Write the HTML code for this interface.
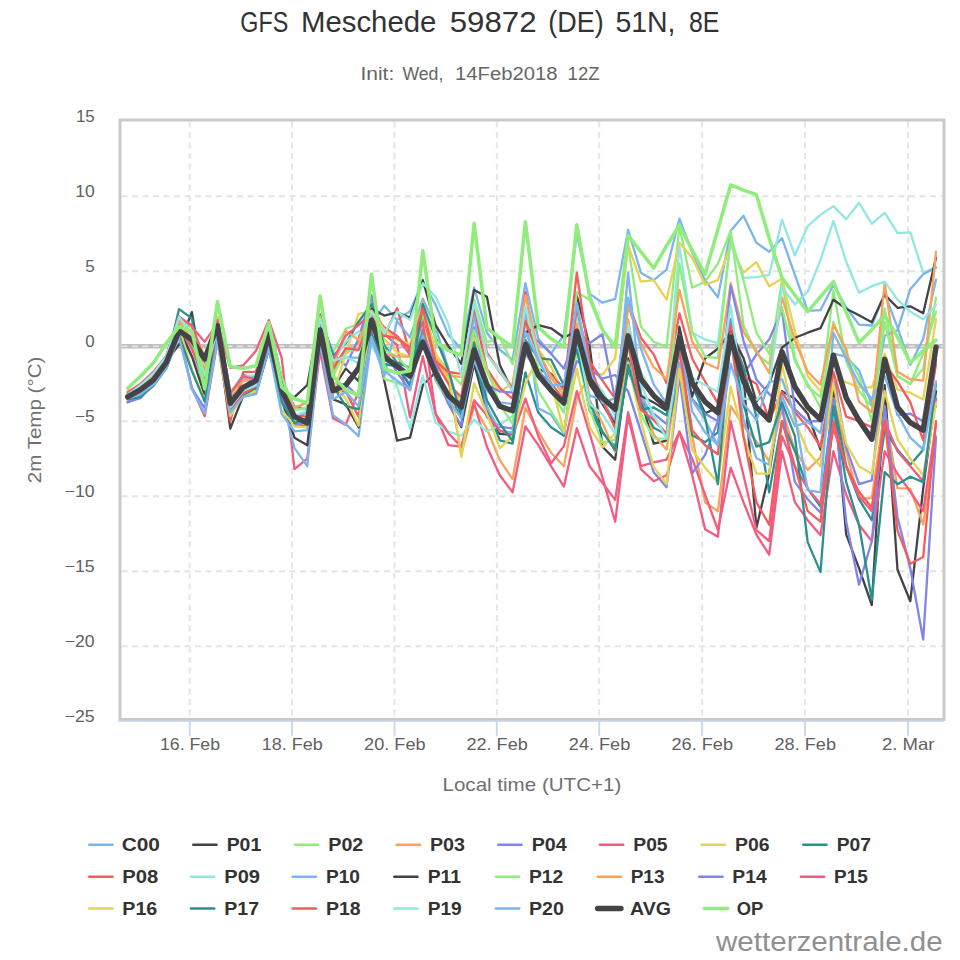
<!DOCTYPE html>
<html><head><meta charset="utf-8"><title>GFS Meschede</title>
<style>html,body{margin:0;padding:0;background:#fff}svg{display:block}text{font-family:"Liberation Sans",sans-serif}</style></head><body>
<svg width="960" height="960" viewBox="0 0 960 960">
<rect width="960" height="960" fill="#fff"/>
<g fill="none" stroke="#e4e4e4" stroke-width="1.9" stroke-dasharray="6,4.5"><path d="M121.5 646.2H943.5"/><path d="M121.5 571.2H943.5"/><path d="M121.5 496.2H943.5"/><path d="M121.5 421.2H943.5"/><path d="M121.5 346.2H943.5"/><path d="M121.5 271.2H943.5"/><path d="M121.5 196.2H943.5"/><path d="M189.7 121.5V718"/><path d="M292.0 121.5V718"/><path d="M394.5 121.5V718"/><path d="M496.8 121.5V718"/><path d="M599.2 121.5V718"/><path d="M702.0 121.5V718"/><path d="M805.0 121.5V718"/><path d="M908.0 121.5V718"/></g>
<path d="M121.5 346.2H943.5" stroke="#c0c0c0" stroke-width="4.5" fill="none"/>
<path d="M121.5 346.2H943.5" stroke="#e6e6e6" stroke-width="1.5" stroke-dasharray="6,4.5" fill="none"/>
<g fill="none" stroke-linejoin="round" stroke-linecap="round">
<path d="M127.7 394.3L140.5 389.6L153.4 375.3L166.2 361.5L179.0 325.2L191.9 347.2L204.7 377.0L217.5 330.8L230.3 404.8L243.2 386.9L256.0 380.5L268.8 337.4L281.7 388.1L294.5 417.5L307.3 412.4L320.1 325.8L333.0 362.8L345.8 357.4L358.6 357.9L371.5 323.8L384.3 305.7L397.1 319.9L410.0 311.2L422.8 281.7L435.6 304.9L448.4 334.9L461.3 348.8L474.1 287.7L486.9 332.7L499.8 349.9L512.6 359.7L525.4 283.2L538.3 338.7L551.1 353.7L563.9 334.9L576.8 233.7L589.6 293.7L602.4 302.7L615.2 298.9L628.1 229.9L640.9 272.7L653.7 280.2L666.6 269.7L679.4 218.7L692.2 252.4L705.1 280.2L717.9 297.4L730.7 230.7L743.5 215.7L756.4 242.7L769.2 251.7L782.0 238.2L794.9 274.9L807.7 310.9L820.5 310.2L833.4 284.7L846.2 307.2L859.0 324.6L871.8 325.5L884.7 293.7L897.5 327.4L910.3 364.9L923.2 338.7L936.0 279.6" stroke="#7cb5ec" stroke-width="2.3"/>
<path d="M127.7 402.2L140.5 397.3L153.4 384.1L166.2 361.2L179.0 344.7L191.9 312.1L204.7 389.7L217.5 331.2L230.3 428.7L243.2 395.9L256.0 393.7L268.8 349.5L281.7 395.7L294.5 397.2L307.3 385.2L320.1 314.7L333.0 388.6L345.8 368.5L358.6 381.1L371.5 318.6L384.3 380.7L397.1 440.7L410.0 437.7L422.8 385.2L435.6 372.3L448.4 403.3L461.3 427.0L474.1 363.7L486.9 411.2L499.8 433.9L512.6 434.8L525.4 343.5L538.3 369.2L551.1 373.8L563.9 389.1L576.8 295.5L589.6 345.9L602.4 446.7L615.2 459.6L628.1 358.2L640.9 398.7L653.7 443.7L666.6 440.7L679.4 326.7L692.2 385.6L705.1 413.3L717.9 407.6L730.7 320.0L743.5 378.4L756.4 527.7L769.2 473.7L782.0 391.2L794.9 398.7L807.7 413.7L820.5 449.7L833.4 388.2L846.2 534.6L859.0 568.2L871.8 605.0L884.7 385.2L897.5 569.7L910.3 601.2L923.2 488.7L936.0 391.2" stroke="#434348" stroke-width="2.3"/>
<path d="M127.7 391.7L140.5 384.5L153.4 372.4L166.2 357.8L179.0 323.7L191.9 340.8L204.7 384.7L217.5 331.3L230.3 402.0L243.2 380.0L256.0 381.8L268.8 338.8L281.7 402.3L294.5 419.7L307.3 427.0L320.1 345.5L333.0 352.2L345.8 328.8L358.6 323.7L371.5 301.2L384.3 378.8L397.1 383.1L410.0 388.0L422.8 321.1L435.6 380.9L448.4 402.0L461.3 404.5L474.1 299.7L486.9 342.4L499.8 337.2L512.6 364.2L525.4 308.7L538.3 367.5L551.1 391.4L563.9 412.6L576.8 292.2L589.6 299.7L602.4 329.7L615.2 346.9L628.1 245.7L640.9 326.7L653.7 341.7L666.6 346.9L679.4 226.2L692.2 287.7L705.1 281.7L717.9 263.7L730.7 230.7L743.5 325.2L756.4 353.7L769.2 364.2L782.0 280.2L794.9 358.2L807.7 386.7L820.5 397.2L833.4 290.1L846.2 361.2L859.0 391.2L871.8 406.2L884.7 308.7L897.5 376.2L910.3 383.7L923.2 368.7L936.0 297.6" stroke="#90ed7d" stroke-width="2.3"/>
<path d="M127.7 392.7L140.5 384.3L153.4 375.3L166.2 358.0L179.0 318.0L191.9 325.1L204.7 361.3L217.5 322.2L230.3 398.8L243.2 380.5L256.0 375.8L268.8 321.4L281.7 377.9L294.5 408.3L307.3 402.1L320.1 317.9L333.0 371.0L345.8 353.6L358.6 343.1L371.5 300.7L384.3 331.4L397.1 336.0L410.0 349.0L422.8 303.3L435.6 357.3L448.4 381.0L461.3 454.2L474.1 406.2L486.9 428.7L499.8 460.2L512.6 479.1L525.4 407.7L538.3 431.7L551.1 452.7L563.9 466.2L576.8 398.7L589.6 374.4L602.4 399.5L615.2 408.7L628.1 319.6L640.9 393.8L653.7 434.7L666.6 449.7L679.4 364.6L692.2 436.2L705.1 502.2L717.9 511.2L730.7 406.2L743.5 425.6L756.4 441.4L769.2 461.4L782.0 409.1L794.9 450.5L807.7 469.9L820.5 457.2L833.4 398.1L846.2 452.1L859.0 498.9L871.8 498.2L884.7 410.0L897.5 488.2L910.3 488.7L923.2 524.7L936.0 436.2" stroke="#f7a35c" stroke-width="2.3"/>
<path d="M127.7 394.5L140.5 389.6L153.4 374.9L166.2 356.0L179.0 319.4L191.9 325.0L204.7 365.5L217.5 317.0L230.3 397.1L243.2 379.5L256.0 381.3L268.8 327.6L281.7 383.2L294.5 406.3L307.3 409.1L320.1 318.8L333.0 353.2L345.8 365.7L358.6 338.7L371.5 295.2L384.3 360.3L397.1 364.3L410.0 385.2L422.8 329.7L435.6 373.7L448.4 404.0L461.3 425.6L474.1 327.4L486.9 417.3L499.8 426.7L512.6 428.5L525.4 331.2L538.3 341.7L551.1 353.7L563.9 368.7L576.8 332.7L589.6 343.2L602.4 334.2L615.2 400.2L628.1 361.2L640.9 401.7L653.7 413.7L666.6 424.2L679.4 353.7L692.2 398.7L705.1 413.7L717.9 421.2L730.7 319.2L743.5 374.7L756.4 354.4L769.2 339.4L782.0 310.2L794.9 409.4L807.7 421.4L820.5 421.0L833.4 374.0L846.2 447.0L859.0 484.2L871.8 480.3L884.7 361.2L897.5 415.2L910.3 413.7L923.2 421.2L936.0 406.2" stroke="#8085e9" stroke-width="2.3"/>
<path d="M127.7 395.0L140.5 388.9L153.4 376.7L166.2 361.5L179.0 321.9L191.9 327.1L204.7 341.7L217.5 323.7L230.3 367.9L243.2 365.4L256.0 350.7L268.8 320.2L281.7 357.9L294.5 469.2L307.3 458.7L320.1 350.7L333.0 418.2L345.8 424.9L358.6 391.2L371.5 331.2L384.3 334.2L397.1 345.0L410.0 417.4L422.8 356.2L435.6 413.7L448.4 445.2L461.3 446.7L474.1 403.2L486.9 446.7L499.8 475.2L512.6 492.3L525.4 426.3L538.3 445.2L551.1 466.2L563.9 486.6L576.8 428.2L589.6 466.2L602.4 482.7L615.2 499.9L628.1 412.2L640.9 466.2L653.7 462.4L666.6 459.6L679.4 431.7L692.2 458.7L705.1 494.7L717.9 530.0L730.7 467.7L743.5 502.2L756.4 534.6L769.2 554.7L782.0 451.2L794.9 502.2L807.7 520.2L820.5 535.2L833.4 451.2L846.2 494.7L859.0 524.7L871.8 541.2L884.7 451.2L897.5 473.7L910.3 491.7L923.2 511.2L936.0 424.2" stroke="#f15c80" stroke-width="2.3"/>
<path d="M127.7 395.7L140.5 387.1L153.4 371.9L166.2 356.8L179.0 319.2L191.9 327.5L204.7 355.8L217.5 316.9L230.3 394.9L243.2 381.7L256.0 375.8L268.8 328.8L281.7 394.0L294.5 417.4L307.3 421.9L320.1 340.0L333.0 394.6L345.8 353.7L358.6 313.8L371.5 311.7L384.3 339.1L397.1 352.6L410.0 356.8L422.8 319.6L435.6 361.4L448.4 380.1L461.3 402.7L474.1 337.6L486.9 372.6L499.8 391.9L512.6 383.0L525.4 312.3L538.3 349.8L551.1 366.6L563.9 395.4L576.8 308.4L589.6 371.7L602.4 374.7L615.2 358.2L628.1 244.9L640.9 281.7L653.7 280.2L666.6 299.7L679.4 242.7L692.2 257.7L705.1 284.7L717.9 280.2L730.7 244.9L743.5 272.7L756.4 262.2L769.2 286.2L782.0 278.7L794.9 331.2L807.7 376.2L820.5 391.2L833.4 379.2L846.2 382.2L859.0 387.4L871.8 387.4L884.7 353.7L897.5 389.7L910.3 392.7L923.2 399.6L936.0 319.2" stroke="#e4d354" stroke-width="2.3"/>
<path d="M127.7 394.0L140.5 388.2L153.4 377.7L166.2 364.2L179.0 309.1L191.9 318.4L204.7 400.2L217.5 322.8L230.3 393.0L243.2 375.1L256.0 378.3L268.8 321.2L281.7 378.2L294.5 408.1L307.3 408.5L320.1 314.8L333.0 355.9L345.8 343.3L358.6 321.6L371.5 304.1L384.3 345.5L397.1 362.6L410.0 367.9L422.8 333.0L435.6 377.4L448.4 392.7L461.3 418.5L474.1 354.7L486.9 406.7L499.8 440.4L512.6 443.6L525.4 372.5L538.3 412.6L551.1 427.3L563.9 435.7L576.8 342.0L589.6 410.2L602.4 432.4L615.2 446.9L628.1 369.6L640.9 404.4L653.7 427.8L666.6 434.7L679.4 373.3L692.2 435.3L705.1 442.2L717.9 432.3L730.7 332.1L743.5 367.3L756.4 416.9L769.2 492.4L782.0 421.2L794.9 451.2L807.7 488.7L820.5 506.7L833.4 398.7L846.2 466.2L859.0 499.2L871.8 520.2L884.7 429.6L897.5 449.7L910.3 464.7L923.2 449.7L936.0 359.7" stroke="#2b908f" stroke-width="2.3"/>
<path d="M127.7 397.9L140.5 393.7L153.4 382.2L166.2 368.3L179.0 336.3L191.9 387.7L204.7 416.3L217.5 341.4L230.3 421.1L243.2 372.1L256.0 371.7L268.8 320.7L281.7 399.2L294.5 423.2L307.3 427.4L320.1 334.9L333.0 392.3L345.8 391.2L358.6 416.7L371.5 330.7L384.3 336.1L397.1 308.1L410.0 353.7L422.8 313.6L435.6 362.7L448.4 383.7L461.3 397.2L474.1 311.2L486.9 368.7L499.8 388.2L512.6 398.7L525.4 292.2L538.3 359.7L551.1 374.7L563.9 389.7L576.8 272.7L589.6 361.2L602.4 380.7L615.2 398.7L628.1 302.2L640.9 337.7L653.7 354.4L666.6 383.4L679.4 313.3L692.2 358.8L705.1 381.5L717.9 403.3L730.7 325.8L743.5 376.2L756.4 383.7L769.2 420.0L782.0 392.1L794.9 412.2L807.7 427.2L820.5 446.7L833.4 371.7L846.2 416.7L859.0 421.2L871.8 427.2L884.7 364.2L897.5 381.4L910.3 402.4L923.2 440.3L936.0 364.2" stroke="#f45b5b" stroke-width="2.3"/>
<path d="M127.7 395.4L140.5 391.6L153.4 379.9L166.2 365.5L179.0 327.6L191.9 349.7L204.7 371.3L217.5 323.1L230.3 392.0L243.2 376.9L256.0 375.1L268.8 321.9L281.7 377.8L294.5 410.6L307.3 406.9L320.1 324.6L333.0 361.2L345.8 341.7L358.6 331.2L371.5 346.2L384.3 365.9L397.1 386.5L410.0 428.7L422.8 375.6L435.6 422.7L448.4 431.7L461.3 435.6L474.1 419.7L486.9 431.7L499.8 424.9L512.6 415.9L525.4 325.8L538.3 362.7L551.1 376.7L563.9 393.9L576.8 314.5L589.6 374.2L602.4 390.9L615.2 416.0L628.1 324.2L640.9 371.8L653.7 397.1L666.6 400.5L679.4 245.7L692.2 332.7L705.1 339.6L717.9 343.2L730.7 241.2L743.5 277.8L756.4 277.2L769.2 274.9L782.0 219.6L794.9 255.3L807.7 226.2L820.5 214.9L833.4 206.1L846.2 219.1L859.0 202.8L871.8 223.8L884.7 212.7L897.5 233.1L910.3 232.3L923.2 272.7L936.0 267.4" stroke="#91e8e1" stroke-width="2.3"/>
<path d="M127.7 395.9L140.5 387.7L153.4 377.2L166.2 363.2L179.0 325.9L191.9 356.0L204.7 382.3L217.5 324.4L230.3 405.7L243.2 389.3L256.0 388.0L268.8 345.7L281.7 398.4L294.5 448.2L307.3 466.2L320.1 341.7L333.0 415.2L345.8 424.2L358.6 436.2L371.5 338.7L384.3 376.2L397.1 321.1L410.0 337.5L422.8 298.6L435.6 327.4L448.4 368.7L461.3 417.6L474.1 313.2L486.9 407.1L499.8 431.1L512.6 432.5L525.4 313.6L538.3 408.4L551.1 414.8L563.9 433.5L576.8 346.1L589.6 395.6L602.4 399.7L615.2 422.3L628.1 272.7L640.9 393.8L653.7 420.1L666.6 433.0L679.4 362.7L692.2 400.1L705.1 419.9L717.9 445.8L730.7 341.8L743.5 419.7L756.4 458.1L769.2 464.8L782.0 396.1L794.9 426.2L807.7 422.1L820.5 433.0L833.4 353.7L846.2 356.7L859.0 370.2L871.8 404.7L884.7 335.7L897.5 330.3L910.3 289.2L923.2 274.2L936.0 267.4" stroke="#7cb5ec" stroke-width="2.3"/>
<path d="M127.7 395.4L140.5 390.9L153.4 379.9L166.2 364.5L179.0 329.3L191.9 356.5L204.7 395.2L217.5 329.7L230.3 406.9L243.2 390.2L256.0 388.5L268.8 342.8L281.7 399.5L294.5 437.7L307.3 445.2L320.1 338.7L333.0 399.2L345.8 404.4L358.6 427.3L371.5 308.7L384.3 315.6L397.1 312.4L410.0 317.7L422.8 280.2L435.6 325.2L448.4 346.2L461.3 363.8L474.1 289.9L486.9 296.7L499.8 364.9L512.6 391.2L525.4 332.7L538.3 325.2L551.1 328.3L563.9 337.5L576.8 331.2L589.6 384.3L602.4 403.9L615.2 424.7L628.1 336.5L640.9 395.8L653.7 402.4L666.6 410.9L679.4 341.1L692.2 396.4L705.1 358.2L717.9 348.8L730.7 331.9L743.5 358.2L756.4 401.7L769.2 383.7L782.0 347.7L794.9 337.8L807.7 332.7L820.5 328.2L833.4 299.7L846.2 308.7L859.0 315.3L871.8 322.2L884.7 294.6L897.5 307.8L910.3 306.3L923.2 313.2L936.0 257.7" stroke="#434348" stroke-width="2.3"/>
<path d="M127.7 394.1L140.5 387.4L153.4 373.4L166.2 357.1L179.0 321.6L191.9 326.2L204.7 368.1L217.5 319.8L230.3 392.1L243.2 380.5L256.0 377.4L268.8 323.1L281.7 376.9L294.5 408.6L307.3 409.7L320.1 323.4L333.0 376.2L345.8 350.1L358.6 350.4L371.5 310.7L384.3 349.8L397.1 356.6L410.0 371.0L422.8 312.9L435.6 355.1L448.4 370.8L461.3 384.6L474.1 330.4L486.9 368.9L499.8 404.6L512.6 423.6L525.4 339.1L538.3 390.7L551.1 411.7L563.9 432.0L576.8 351.1L589.6 409.1L602.4 442.9L615.2 439.5L628.1 344.2L640.9 414.1L653.7 438.3L666.6 438.6L679.4 263.7L692.2 331.9L705.1 356.7L717.9 358.2L730.7 236.7L743.5 280.2L756.4 332.7L769.2 353.7L782.0 307.2L794.9 361.2L807.7 383.7L820.5 407.7L833.4 322.2L846.2 353.7L859.0 376.2L871.8 421.2L884.7 322.2L897.5 376.2L910.3 383.7L923.2 353.7L936.0 311.7" stroke="#90ed7d" stroke-width="2.3"/>
<path d="M127.7 391.9L140.5 384.2L153.4 374.9L166.2 358.9L179.0 320.7L191.9 339.0L204.7 371.3L217.5 321.4L230.3 392.2L243.2 380.4L256.0 377.2L268.8 327.2L281.7 388.7L294.5 407.7L307.3 402.6L320.1 316.4L333.0 367.2L345.8 330.7L358.6 340.2L371.5 313.3L384.3 354.0L397.1 356.3L410.0 356.6L422.8 301.9L435.6 353.6L448.4 375.9L461.3 376.8L474.1 305.9L486.9 352.2L499.8 371.3L512.6 387.3L525.4 295.2L538.3 350.4L551.1 377.5L563.9 395.4L576.8 323.7L589.6 400.2L602.4 422.8L615.2 452.1L628.1 305.7L640.9 343.2L653.7 367.2L666.6 379.2L679.4 289.8L692.2 341.7L705.1 362.7L717.9 368.7L730.7 283.2L743.5 331.9L756.4 350.7L769.2 373.2L782.0 297.4L794.9 340.2L807.7 371.7L820.5 384.6L833.4 324.6L846.2 349.2L859.0 401.7L871.8 412.2L884.7 283.2L897.5 371.7L910.3 379.2L923.2 380.7L936.0 251.7" stroke="#f7a35c" stroke-width="2.3"/>
<path d="M127.7 401.8L140.5 398.2L153.4 382.9L166.2 365.9L179.0 333.7L191.9 388.5L204.7 408.2L217.5 340.6L230.3 413.2L243.2 389.8L256.0 385.0L268.8 333.9L281.7 398.1L294.5 425.8L307.3 420.8L320.1 332.5L333.0 384.9L345.8 384.3L358.6 397.1L371.5 324.5L384.3 351.7L397.1 372.5L410.0 390.3L422.8 333.4L435.6 365.0L448.4 398.9L461.3 402.2L474.1 361.2L486.9 384.7L499.8 391.4L512.6 392.6L525.4 353.7L538.3 372.2L551.1 382.9L563.9 401.1L576.8 361.2L589.6 368.5L602.4 378.6L615.2 375.0L628.1 391.2L640.9 431.7L653.7 472.2L666.6 487.2L679.4 376.2L692.2 473.7L705.1 454.9L717.9 421.2L730.7 285.6L743.5 340.8L756.4 379.4L769.2 393.9L782.0 406.2L794.9 482.1L807.7 499.2L820.5 512.7L833.4 398.7L846.2 521.7L859.0 584.7L871.8 541.2L884.7 406.2L897.5 517.2L910.3 568.2L923.2 639.6L936.0 437.7" stroke="#8085e9" stroke-width="2.3"/>
<path d="M127.7 392.1L140.5 383.9L153.4 371.9L166.2 356.3L179.0 316.4L191.9 326.1L204.7 358.8L217.5 320.0L230.3 393.3L243.2 376.6L256.0 378.9L268.8 323.7L281.7 388.0L294.5 417.1L307.3 422.3L320.1 331.6L333.0 359.7L345.8 335.7L358.6 325.2L371.5 313.2L384.3 327.3L397.1 336.0L410.0 355.0L422.8 321.8L435.6 413.7L448.4 433.2L461.3 446.7L474.1 400.2L486.9 415.2L499.8 430.2L512.6 436.2L525.4 398.7L538.3 436.2L551.1 463.2L563.9 446.1L576.8 391.2L589.6 433.2L602.4 477.4L615.2 521.7L628.1 416.7L640.9 469.2L653.7 481.2L666.6 475.2L679.4 431.7L692.2 475.2L705.1 529.2L717.9 536.7L730.7 421.2L743.5 475.2L756.4 530.0L769.2 541.2L782.0 436.2L794.9 466.2L807.7 488.7L820.5 503.7L833.4 428.7L846.2 466.2L859.0 496.2L871.8 511.2L884.7 421.2L897.5 451.2L910.3 466.2L923.2 481.2L936.0 398.7" stroke="#f15c80" stroke-width="2.3"/>
<path d="M127.7 396.5L140.5 390.2L153.4 380.4L166.2 365.4L179.0 327.1L191.9 369.5L204.7 399.9L217.5 341.4L230.3 415.9L243.2 395.4L256.0 391.6L268.8 343.8L281.7 409.9L294.5 426.3L307.3 427.4L320.1 337.5L333.0 381.7L345.8 398.7L358.6 425.7L371.5 310.8L384.3 329.4L397.1 340.4L410.0 344.0L422.8 304.0L435.6 354.8L448.4 371.4L461.3 457.2L474.1 383.1L486.9 413.7L499.8 448.2L512.6 436.2L525.4 383.7L538.3 356.2L551.1 382.9L563.9 431.7L576.8 368.7L589.6 427.2L602.4 447.4L615.2 433.2L628.1 362.7L640.9 421.2L653.7 467.1L666.6 484.2L679.4 368.7L692.2 449.7L705.1 467.7L717.9 482.7L730.7 386.7L743.5 436.2L756.4 473.7L769.2 473.7L782.0 364.2L794.9 421.2L807.7 451.2L820.5 466.2L833.4 383.7L846.2 443.7L859.0 466.2L871.8 473.7L884.7 391.2L897.5 439.2L910.3 458.7L923.2 475.2L936.0 403.2" stroke="#e4d354" stroke-width="2.3"/>
<path d="M127.7 399.4L140.5 396.8L153.4 385.8L166.2 368.5L179.0 335.2L191.9 371.1L204.7 401.6L217.5 337.4L230.3 410.5L243.2 394.8L256.0 388.3L268.8 349.1L281.7 402.1L294.5 423.0L307.3 418.4L320.1 333.3L333.0 386.0L345.8 406.2L358.6 409.2L371.5 333.6L384.3 363.9L397.1 366.9L410.0 385.8L422.8 304.2L435.6 337.5L448.4 370.2L461.3 415.7L474.1 342.4L486.9 400.3L499.8 423.7L512.6 441.1L525.4 340.2L538.3 358.2L551.1 359.7L563.9 385.2L576.8 349.8L589.6 402.7L602.4 431.3L615.2 450.4L628.1 364.9L640.9 409.4L653.7 407.5L666.6 415.3L679.4 342.0L692.2 382.4L705.1 417.5L717.9 484.2L730.7 335.7L743.5 404.8L756.4 446.6L769.2 442.2L782.0 402.4L794.9 436.2L807.7 542.1L820.5 572.1L833.4 406.2L846.2 482.1L859.0 524.7L871.8 599.7L884.7 472.2L897.5 484.2L910.3 476.7L923.2 482.1L936.0 383.7" stroke="#2b908f" stroke-width="2.3"/>
<path d="M127.7 394.4L140.5 390.8L153.4 378.9L166.2 359.6L179.0 325.6L191.9 348.8L204.7 380.5L217.5 331.3L230.3 409.5L243.2 393.4L256.0 386.1L268.8 338.4L281.7 393.1L294.5 414.6L307.3 416.9L320.1 325.0L333.0 368.9L345.8 348.4L358.6 349.9L371.5 315.3L384.3 335.7L397.1 338.0L410.0 347.9L422.8 308.6L435.6 361.4L448.4 372.0L461.3 373.8L474.1 308.1L486.9 353.2L499.8 372.1L512.6 389.0L525.4 321.2L538.3 353.5L551.1 383.9L563.9 399.3L576.8 308.4L589.6 363.5L602.4 400.6L615.2 428.6L628.1 343.1L640.9 409.8L653.7 419.8L666.6 434.0L679.4 349.9L692.2 430.2L705.1 445.2L717.9 454.2L730.7 332.3L743.5 436.2L756.4 502.2L769.2 524.7L782.0 421.2L794.9 466.2L807.7 511.2L820.5 521.7L833.4 421.2L846.2 466.2L859.0 491.7L871.8 507.4L884.7 421.2L897.5 530.7L910.3 563.7L923.2 557.1L936.0 421.2" stroke="#f45b5b" stroke-width="2.3"/>
<path d="M127.7 394.7L140.5 385.3L153.4 373.4L166.2 356.8L179.0 317.0L191.9 334.6L204.7 375.5L217.5 329.5L230.3 407.2L243.2 390.8L256.0 385.2L268.8 340.0L281.7 392.8L294.5 415.9L307.3 410.8L320.1 318.7L333.0 360.8L345.8 356.7L358.6 363.2L371.5 312.0L384.3 333.7L397.1 311.7L410.0 319.9L422.8 283.2L435.6 296.7L448.4 323.7L461.3 376.2L474.1 302.6L486.9 355.3L499.8 371.0L512.6 391.0L525.4 306.5L538.3 354.5L551.1 385.7L563.9 404.9L576.8 335.3L589.6 403.8L602.4 414.2L615.2 433.8L628.1 331.3L640.9 383.8L653.7 415.2L666.6 438.3L679.4 343.9L692.2 378.1L705.1 385.1L717.9 391.9L730.7 305.7L743.5 398.7L756.4 400.2L769.2 386.7L782.0 287.1L794.9 304.5L807.7 291.8L820.5 259.9L833.4 220.9L846.2 261.8L859.0 292.8L871.8 286.2L884.7 281.7L897.5 299.7L910.3 311.7L923.2 319.2L936.0 304.9" stroke="#91e8e1" stroke-width="2.3"/>
<path d="M127.7 398.5L140.5 394.4L153.4 384.9L166.2 368.9L179.0 336.8L191.9 389.3L204.7 413.6L217.5 338.8L230.3 412.3L243.2 396.8L256.0 394.1L268.8 347.7L281.7 414.0L294.5 431.3L307.3 430.2L320.1 343.0L333.0 399.2L345.8 392.0L358.6 406.3L371.5 336.9L384.3 371.1L397.1 380.7L410.0 389.9L422.8 335.9L435.6 378.6L448.4 400.1L461.3 418.1L474.1 360.0L486.9 390.6L499.8 402.3L512.6 404.0L525.4 332.3L538.3 359.7L551.1 385.4L563.9 384.6L576.8 303.0L589.6 370.0L602.4 402.8L615.2 398.1L628.1 297.6L640.9 348.5L653.7 384.3L666.6 403.5L679.4 336.8L692.2 411.5L705.1 432.4L717.9 445.2L730.7 363.6L743.5 403.1L756.4 420.1L769.2 382.2L782.0 379.2L794.9 415.2L807.7 490.2L820.5 492.4L833.4 332.7L846.2 358.2L859.0 383.7L871.8 398.7L884.7 376.2L897.5 413.7L910.3 437.7L923.2 449.7L936.0 381.4" stroke="#7cb5ec" stroke-width="2.3"/>
<path d="M127.7 396.9L140.5 389.7L153.4 379.8L166.2 362.7L179.0 330.8L191.9 339.9L204.7 358.9L217.5 325.8L230.3 403.2L243.2 387.4L256.0 380.7L268.8 334.2L281.7 390.4L294.5 416.7L307.3 423.0L320.1 330.0L333.0 390.4L345.8 385.2L358.6 368.1L371.5 320.2L384.3 356.7L397.1 366.3L410.0 376.2L422.8 342.1L435.6 373.2L448.4 395.7L461.3 407.1L474.1 349.9L486.9 384.6L499.8 406.2L512.6 410.7L525.4 344.4L538.3 375.3L551.1 390.3L563.9 403.2L576.8 331.2L589.6 379.2L602.4 397.8L615.2 409.2L628.1 335.8L640.9 379.2L653.7 395.7L666.6 407.7L679.4 337.8L692.2 382.8L705.1 401.7L717.9 412.8L730.7 337.2L743.5 380.7L756.4 407.1L769.2 420.0L782.0 351.8L794.9 386.7L807.7 407.1L820.5 419.7L833.4 355.2L846.2 397.8L859.0 420.3L871.8 439.2L884.7 359.3L897.5 407.1L910.3 422.7L923.2 430.2L936.0 347.1" stroke="#434348" stroke-width="5.4"/>
<path d="M127.7 388.2L140.5 376.2L153.4 363.1L166.2 343.2L179.0 326.7L191.9 331.2L204.7 388.9L217.5 301.6L230.3 366.6L243.2 368.4L256.0 365.7L268.8 322.9L281.7 387.1L294.5 398.7L307.3 402.9L320.1 295.9L333.0 376.2L345.8 389.7L358.6 395.7L371.5 274.2L384.3 368.7L397.1 373.2L410.0 370.9L422.8 250.8L435.6 341.7L448.4 350.7L461.3 355.2L474.1 223.3L486.9 328.2L499.8 337.9L512.6 346.9L525.4 221.7L538.3 327.4L551.1 338.7L563.9 346.9L576.8 224.7L589.6 296.7L602.4 329.7L615.2 347.1L628.1 235.2L640.9 251.7L653.7 268.2L666.6 245.7L679.4 225.3L692.2 250.2L705.1 274.2L717.9 229.2L730.7 184.9L743.5 190.2L756.4 194.7L769.2 238.2L782.0 277.8L794.9 295.2L807.7 311.7L820.5 296.7L833.4 281.7L846.2 312.4L859.0 342.4L871.8 329.7L884.7 315.3L897.5 337.2L910.3 362.7L923.2 350.7L936.0 340.2" stroke="#90ed7d" stroke-width="3.5"/>
</g>
<rect x="120" y="120" width="824" height="599.5" fill="none" stroke="#c9c9c9" stroke-width="3"/>
<path d="M118.5 720.9H944" stroke="#c6d3e8" stroke-width="1.5" fill="none"/>
<path d="M189.7 721V735.8M292.0 721V735.8M394.5 721V735.8M496.8 721V735.8M599.2 721V735.8M702.0 721V735.8M805.0 721V735.8M908.0 721V735.8" stroke="#cbd7ea" stroke-width="1.9" fill="none"/>
<text x="240.3" y="32" font-size="30" fill="#333333" textLength="47.9" lengthAdjust="spacingAndGlyphs">GFS</text>
<text x="301" y="32" font-size="30" fill="#333333" textLength="135.4" lengthAdjust="spacingAndGlyphs">Meschede</text>
<text x="449.7" y="32" font-size="30" fill="#333333" textLength="86.9" lengthAdjust="spacingAndGlyphs">59872</text>
<text x="548.3" y="32" font-size="30" fill="#333333" textLength="55.4" lengthAdjust="spacingAndGlyphs">(DE)</text>
<text x="615.4" y="32" font-size="30" fill="#333333" textLength="60.1" lengthAdjust="spacingAndGlyphs">51N,</text>
<text x="688.9" y="32" font-size="30" fill="#333333" textLength="30.4" lengthAdjust="spacingAndGlyphs">8E</text>
<text x="360.4" y="80" font-size="18" fill="#666666" textLength="33.9" lengthAdjust="spacingAndGlyphs">Init:</text>
<text x="402.4" y="80" font-size="18" fill="#666666" textLength="40.9" lengthAdjust="spacingAndGlyphs">Wed,</text>
<text x="455" y="80" font-size="18" fill="#666666" textLength="102.6" lengthAdjust="spacingAndGlyphs">14Feb2018</text>
<text x="567.6" y="80" font-size="18" fill="#666666" textLength="32.1" lengthAdjust="spacingAndGlyphs">12Z</text>
<text x="64.7" y="721.5" font-size="16.5" fill="#606060" textLength="30" lengthAdjust="spacingAndGlyphs">−25</text>
<text x="64.7" y="646.5" font-size="16.5" fill="#606060" textLength="30" lengthAdjust="spacingAndGlyphs">−20</text>
<text x="64.7" y="571.5" font-size="16.5" fill="#606060" textLength="30" lengthAdjust="spacingAndGlyphs">−15</text>
<text x="64.7" y="496.5" font-size="16.5" fill="#606060" textLength="30" lengthAdjust="spacingAndGlyphs">−10</text>
<text x="75.0" y="421.5" font-size="16.5" fill="#606060" textLength="19.7" lengthAdjust="spacingAndGlyphs">−5</text>
<text x="85.3" y="346.5" font-size="16.5" fill="#606060" textLength="9.4" lengthAdjust="spacingAndGlyphs">0</text>
<text x="85.3" y="271.5" font-size="16.5" fill="#606060" textLength="9.4" lengthAdjust="spacingAndGlyphs">5</text>
<text x="75.2" y="196.5" font-size="16.5" fill="#606060" textLength="19.5" lengthAdjust="spacingAndGlyphs">10</text>
<text x="75.9" y="121.5" font-size="16.5" fill="#606060" textLength="18.8" lengthAdjust="spacingAndGlyphs">15</text>
<text x="160.0" y="750" font-size="16.5" fill="#606060" textLength="60" lengthAdjust="spacingAndGlyphs">16. Feb</text>
<text x="261.8" y="750" font-size="16.5" fill="#606060" textLength="61" lengthAdjust="spacingAndGlyphs">18. Feb</text>
<text x="364.1" y="750" font-size="16.5" fill="#606060" textLength="61.5" lengthAdjust="spacingAndGlyphs">20. Feb</text>
<text x="466.5" y="750" font-size="16.5" fill="#606060" textLength="61.25" lengthAdjust="spacingAndGlyphs">22. Feb</text>
<text x="568.8" y="750" font-size="16.5" fill="#606060" textLength="61.5" lengthAdjust="spacingAndGlyphs">24. Feb</text>
<text x="671.5" y="750" font-size="16.5" fill="#606060" textLength="61.5" lengthAdjust="spacingAndGlyphs">26. Feb</text>
<text x="774.5" y="750" font-size="16.5" fill="#606060" textLength="61.5" lengthAdjust="spacingAndGlyphs">28. Feb</text>
<text x="882.0" y="750" font-size="16.5" fill="#606060" textLength="52.5" lengthAdjust="spacingAndGlyphs">2. Mar</text>
<text x="442.5" y="791.2" font-size="18.5" fill="#707070" textLength="178.75" lengthAdjust="spacingAndGlyphs">Local time (UTC+1)</text>
<text transform="translate(40.6 483.2) rotate(-90)" font-size="18.5" fill="#707070" textLength="126.5" lengthAdjust="spacingAndGlyphs">2m Temp (°C)</text>
<path d="M89.2 844.8h23.4" stroke="#7cb5ec" stroke-width="2.4" stroke-linecap="round" fill="none"/>
<text x="121.7" y="850.8" font-size="18.5" font-weight="bold" fill="#333" textLength="38.3" lengthAdjust="spacingAndGlyphs">C00</text>
<path d="M193.2 844.8h23.4" stroke="#434348" stroke-width="2.4" stroke-linecap="round" fill="none"/>
<text x="226.7" y="850.8" font-size="18.5" font-weight="bold" fill="#333" textLength="34.5" lengthAdjust="spacingAndGlyphs">P01</text>
<path d="M294.9 844.8h23.4" stroke="#90ed7d" stroke-width="2.4" stroke-linecap="round" fill="none"/>
<text x="328.3" y="850.8" font-size="18.5" font-weight="bold" fill="#333" textLength="35" lengthAdjust="spacingAndGlyphs">P02</text>
<path d="M396.6 844.8h23.4" stroke="#f7a35c" stroke-width="2.4" stroke-linecap="round" fill="none"/>
<text x="430" y="850.8" font-size="18.5" font-weight="bold" fill="#333" textLength="35" lengthAdjust="spacingAndGlyphs">P03</text>
<path d="M498.2 844.8h23.4" stroke="#8085e9" stroke-width="2.4" stroke-linecap="round" fill="none"/>
<text x="531.7" y="850.8" font-size="18.5" font-weight="bold" fill="#333" textLength="35" lengthAdjust="spacingAndGlyphs">P04</text>
<path d="M599.9 844.8h23.4" stroke="#f15c80" stroke-width="2.4" stroke-linecap="round" fill="none"/>
<text x="633.3" y="850.8" font-size="18.5" font-weight="bold" fill="#333" textLength="34.3" lengthAdjust="spacingAndGlyphs">P05</text>
<path d="M701.6 844.8h23.4" stroke="#e4d354" stroke-width="2.4" stroke-linecap="round" fill="none"/>
<text x="735" y="850.8" font-size="18.5" font-weight="bold" fill="#333" textLength="34.5" lengthAdjust="spacingAndGlyphs">P06</text>
<path d="M803.2 844.8h23.4" stroke="#2b908f" stroke-width="2.4" stroke-linecap="round" fill="none"/>
<text x="836.7" y="850.8" font-size="18.5" font-weight="bold" fill="#333" textLength="34.3" lengthAdjust="spacingAndGlyphs">P07</text>
<path d="M89.2 876.7h23.4" stroke="#f45b5b" stroke-width="2.4" stroke-linecap="round" fill="none"/>
<text x="122.3" y="882.7" font-size="18.5" font-weight="bold" fill="#333" textLength="36" lengthAdjust="spacingAndGlyphs">P08</text>
<path d="M190.9 876.7h23.4" stroke="#91e8e1" stroke-width="2.4" stroke-linecap="round" fill="none"/>
<text x="224.3" y="882.7" font-size="18.5" font-weight="bold" fill="#333" textLength="35.7" lengthAdjust="spacingAndGlyphs">P09</text>
<path d="M292.6 876.7h23.4" stroke="#7cb5ec" stroke-width="2.4" stroke-linecap="round" fill="none"/>
<text x="326" y="882.7" font-size="18.5" font-weight="bold" fill="#333" textLength="34" lengthAdjust="spacingAndGlyphs">P10</text>
<path d="M394.2 876.7h23.4" stroke="#434348" stroke-width="2.4" stroke-linecap="round" fill="none"/>
<text x="427.7" y="882.7" font-size="18.5" font-weight="bold" fill="#333" textLength="33.3" lengthAdjust="spacingAndGlyphs">P11</text>
<path d="M495.9 876.7h23.4" stroke="#90ed7d" stroke-width="2.4" stroke-linecap="round" fill="none"/>
<text x="529" y="882.7" font-size="18.5" font-weight="bold" fill="#333" textLength="34.3" lengthAdjust="spacingAndGlyphs">P12</text>
<path d="M597.6 876.7h23.4" stroke="#f7a35c" stroke-width="2.4" stroke-linecap="round" fill="none"/>
<text x="630.7" y="882.7" font-size="18.5" font-weight="bold" fill="#333" textLength="33.8" lengthAdjust="spacingAndGlyphs">P13</text>
<path d="M699.2 876.7h23.4" stroke="#8085e9" stroke-width="2.4" stroke-linecap="round" fill="none"/>
<text x="732.3" y="882.7" font-size="18.5" font-weight="bold" fill="#333" textLength="34.4" lengthAdjust="spacingAndGlyphs">P14</text>
<path d="M800.9 876.7h23.4" stroke="#f15c80" stroke-width="2.4" stroke-linecap="round" fill="none"/>
<text x="834" y="882.7" font-size="18.5" font-weight="bold" fill="#333" textLength="33.7" lengthAdjust="spacingAndGlyphs">P15</text>
<path d="M89.2 908.5h23.4" stroke="#e4d354" stroke-width="2.4" stroke-linecap="round" fill="none"/>
<text x="122.3" y="914.5" font-size="18.5" font-weight="bold" fill="#333" textLength="35" lengthAdjust="spacingAndGlyphs">P16</text>
<path d="M190.9 908.5h23.4" stroke="#2b908f" stroke-width="2.4" stroke-linecap="round" fill="none"/>
<text x="224.3" y="914.5" font-size="18.5" font-weight="bold" fill="#333" textLength="34.7" lengthAdjust="spacingAndGlyphs">P17</text>
<path d="M292.6 908.5h23.4" stroke="#f45b5b" stroke-width="2.4" stroke-linecap="round" fill="none"/>
<text x="326" y="914.5" font-size="18.5" font-weight="bold" fill="#333" textLength="34.7" lengthAdjust="spacingAndGlyphs">P18</text>
<path d="M394.2 908.5h23.4" stroke="#91e8e1" stroke-width="2.4" stroke-linecap="round" fill="none"/>
<text x="427.7" y="914.5" font-size="18.5" font-weight="bold" fill="#333" textLength="34" lengthAdjust="spacingAndGlyphs">P19</text>
<path d="M495.9 908.5h23.4" stroke="#7cb5ec" stroke-width="2.4" stroke-linecap="round" fill="none"/>
<text x="529" y="914.5" font-size="18.5" font-weight="bold" fill="#333" textLength="35" lengthAdjust="spacingAndGlyphs">P20</text>
<path d="M597.6 908.5h23.4" stroke="#434348" stroke-width="5.3" stroke-linecap="round" fill="none"/>
<text x="630" y="914.5" font-size="18.5" font-weight="bold" fill="#333" textLength="41" lengthAdjust="spacingAndGlyphs">AVG</text>
<path d="M704.2 908.5h23.4" stroke="#90ed7d" stroke-width="3.4" stroke-linecap="round" fill="none"/>
<text x="736.7" y="914.5" font-size="18.5" font-weight="bold" fill="#333" textLength="26.6" lengthAdjust="spacingAndGlyphs">OP</text>
<text x="716" y="951" font-size="27.5" fill="#909090" textLength="226.7" lengthAdjust="spacingAndGlyphs">wetterzentrale.de</text>
</svg></body></html>
